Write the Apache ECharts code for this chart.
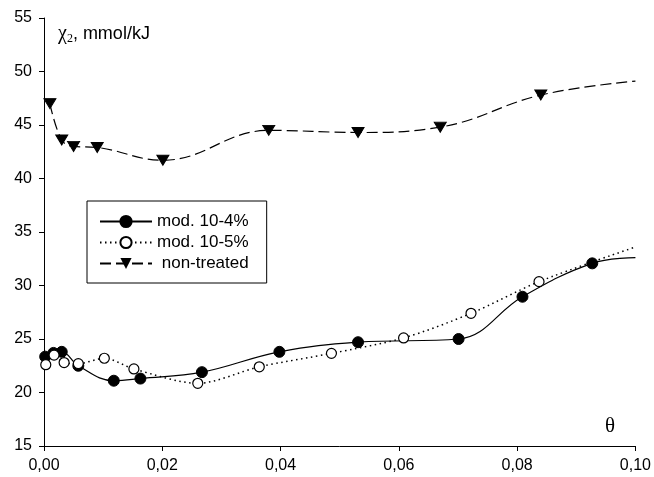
<!DOCTYPE html>
<html>
<head>
<meta charset="utf-8">
<script src="https://cdn.jsdelivr.net/npm/echarts@6/dist/echarts.min.js"></script>
<style>
  html, body { margin: 0; padding: 0; background: #fff; }
  #chart { width: 654px; height: 477px; }
</style>
</head>
<body>
<div id="chart"></div>
<script>
// x values (theta) and chi2 values
const theta4 = [0.0002, 0.0016, 0.003, 0.0058, 0.0118, 0.0163, 0.0267, 0.0398, 0.0531, 0.0701, 0.0809, 0.0927]
const chi4 = [23.35, 23.7, 23.8, 22.5, 21.1, 21.3, 21.9, 23.8, 24.7, 25.0, 28.95, 32.07]
const end4 = [0.1, 32.6]

const theta5 = [0.0003, 0.0017, 0.0034, 0.0058, 0.0102, 0.0152, 0.026, 0.0364, 0.0486, 0.0608, 0.0722, 0.0837]
const chi5 = [22.6, 23.5, 22.8, 22.7, 23.2, 22.2, 20.86, 22.4, 23.66, 25.1, 27.4, 30.36]
const end5 = [0.1, 33.6]

const thetaN = [0.001, 0.003, 0.005, 0.009, 0.0201, 0.038, 0.0531, 0.067, 0.084]
const chiN = [47.0, 43.6, 43.0, 42.9, 41.7, 44.5, 44.3, 44.8, 47.8]
const endN = [0.1, 49.1]

const seriesNames = ['mod. 10-4%', 'mod. 10-5%', 'non-treated']

const chart = echarts.init(document.getElementById('chart'))

// 把点和曲线末端拼在一起
function build(xs, ys, end) {
    const data = xs.map((x, i) => [x, ys[i]])
    data.push({ value: end, symbol: 'none' })
    return data
}

const font = 'Liberation Sans, Arial, sans-serif'
const serif = 'Liberation Serif, serif'
const axisColor = '#000'

const option = {
    animation: false,
    grid: { left: 44, right: 16, top: 18, bottom: 31 },
    legend: {
        orient: 'vertical',
        left: 87,
        top: 201,
        padding: [12, 18, 11, 12],
        borderColor: '#000',
        borderWidth: 1,
        itemWidth: 52,
        itemHeight: 14,
        itemGap: 4,
        data: seriesNames,
        formatter: name => (name === 'non-treated' ? ' ' + name : name),
        textStyle: { fontFamily: font, fontSize: 17, color: '#000' }
    },
    xAxis: {
        type: 'value',
        min: 0,
        max: 0.1,
        interval: 0.02,
        splitLine: { show: false },
        axisLine: { lineStyle: { color: axisColor, width: 1 } },
        axisTick: { length: 5, lineStyle: { color: axisColor } },
        axisLabel: {
            margin: 12,
            color: '#000',
            fontFamily: font,
            fontSize: 16,
            formatter: v => v.toFixed(2).replace('.', ',')
        }
    },
    yAxis: {
        type: 'value',
        min: 15,
        max: 55,
        interval: 5,
        splitLine: { show: false },
        axisLine: { show: true, lineStyle: { color: axisColor, width: 1 } },
        axisTick: { show: true, length: 5, lineStyle: { color: axisColor } },
        axisLabel: {
            margin: 12,
            color: '#000',
            fontFamily: font,
            fontSize: 16
        }
    },
    graphic: [
        {
            type: 'text',
            left: 58,
            top: 24,
            style: {
                text: '{g|χ}{s|2}{t|, mmol/kJ}',
                rich: {
                    g: { fontFamily: serif, fontSize: 20, fill: '#000' },
                    s: { fontFamily: serif, fontSize: 12, fill: '#000', padding: [9, 0, 0, 0] },
                    t: { fontFamily: font, fontSize: 18, fill: '#000' }
                }
            }
        },
        {
            type: 'text',
            left: 605,
            top: 416,
            style: { text: 'θ', fontFamily: serif, fontSize: 21, fill: '#000' }
        }
    ],
    series: [
        {
            name: seriesNames[0],
            type: 'line',
            smooth: 0.4,
            data: build(theta4, chi4, end4),
            symbol: 'circle',
            symbolSize: 11,
            itemStyle: { color: '#000', borderColor: '#000', borderWidth: 1 },
            lineStyle: { color: '#000', width: 1.2, type: 'solid' },
            z: 3
        },
        {
            name: seriesNames[1],
            type: 'line',
            smooth: 0.3,
            data: build(theta5, chi5, end5),
            symbol: 'circle',
            symbolSize: 10,
            itemStyle: { color: '#fff', borderColor: '#000', borderWidth: 1.2 },
            lineStyle: { color: '#000', width: 1.5, type: [1.5, 3.5] },
            z: 4
        },
        {
            name: seriesNames[2],
            type: 'line',
            smooth: 0.4,
            data: build(thetaN, chiN, endN),
            symbol: 'path://M0,0 L10,0 L5,9 Z',
            symbolSize: [12, 10],
            itemStyle: { color: '#000', borderColor: '#000' },
            lineStyle: { color: '#000', width: 1.2, type: [11, 5] },
            z: 3
        }
    ]
}

chart.setOption(option)
</script>
</body>
</html>
